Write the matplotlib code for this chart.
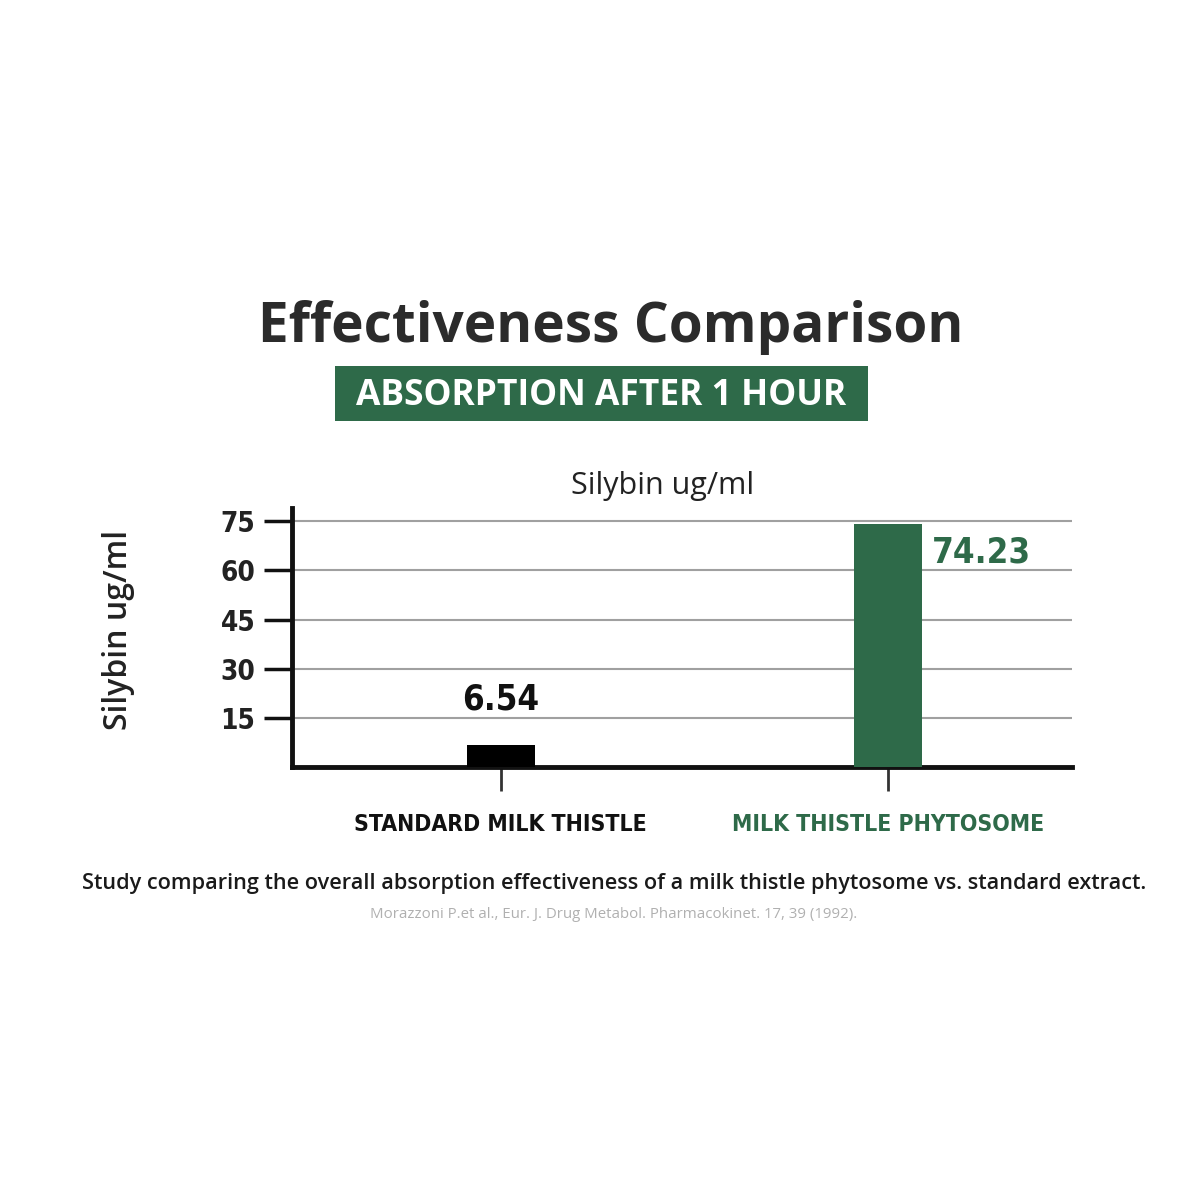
import matplotlib.pyplot as plt
from matplotlib.patches import Rectangle

# Data
categories = ['STANDARD MILK THISTLE', 'MILK THISTLE PHYTOSOME']
values = [6.54, 74.23]
value_labels = ['6.54', '74.23']
y_ticks = [15, 30, 45, 60, 75]

green = '#2e6a49'
bar_colors = ['#000000', green]
label_colors = ['#111111', green]

narrow = ['DejaVu Sans']
wide = ['Open Sans', 'DejaVu Sans']

fig = plt.figure(figsize=(12, 12), dpi=100)
fig.patch.set_facecolor('white')

ax = fig.add_axes([0.243, 0.361, 0.650, 0.216])
x = list(range(len(categories)))
ax.bar(x, values, width=0.176, color=bar_colors, zorder=3)

ax.set_xlim(-0.54, 1.475)
ax.set_ylim(0, 79.2)
ax.set_yticks(y_ticks)
ax.set_yticklabels([str(t) for t in y_ticks], family=narrow, fontweight='bold',
                   fontsize=20, color='#222222', fontstretch='condensed')
ax.set_xticks(x)
ax.set_xticklabels(categories, family=narrow, fontweight='bold', fontsize=16.5,
                   fontstretch='condensed')
for lbl, c in zip(ax.get_xticklabels(), label_colors):
    lbl.set_color(c)

ax.grid(axis='y', color='#a0a0a0', linewidth=1.5, zorder=0)
ax.tick_params(axis='y', length=20, width=2.5, color='#111111', pad=6)
ax.tick_params(axis='x', length=17, width=2, color='#333333', pad=16)
for side in ['top', 'right']:
    ax.spines[side].set_visible(False)
for side in ['left', 'bottom']:
    ax.spines[side].set_linewidth(3.5)
    ax.spines[side].set_color('#111111')

# value labels
ax.text(x[0], 17.5, value_labels[0], ha='center', va='baseline',
        family=narrow, fontweight='bold', fontsize=25, color='#111111',
        fontstretch='condensed')
ax.text(x[1] + 0.114, 62.4, value_labels[1], ha='left', va='baseline',
        family=narrow, fontweight='bold', fontsize=25, color=green,
        fontstretch='condensed')

ax.set_title('Silybin ug/ml', family=wide, fontsize=22, color='#222222', pad=10,
             x=0.476)
fig.text(0.099, 0.475, 'Silybin ug/ml', rotation=90, ha='center', va='center',
         family=wide, fontsize=23, fontweight='semibold', color='#222222')

# header
fig.text(0.509, 0.727, 'Effectiveness Comparison', ha='center', va='center',
         family=wide, fontsize=39.5, fontweight='bold', color='#2b2b2b')
fig.patches.append(Rectangle((0.279, 0.649), 0.444, 0.046, transform=fig.transFigure,
                             facecolor=green, edgecolor='none'))
fig.text(0.501, 0.670, 'ABSORPTION AFTER 1 HOUR', ha='center', va='center',
         family=wide, fontsize=25.5, fontweight='bold', color='white')

# caption
fig.text(0.512, 0.264, 'Study comparing the overall absorption effectiveness of a milk thistle phytosome vs. standard extract.',
         ha='center', va='center', family=wide, fontsize=15.6, fontweight='semibold',
         color='#1a1a1a')
fig.text(0.511, 0.238, 'Morazzoni P.et al., Eur. J. Drug Metabol. Pharmacokinet. 17, 39 (1992).',
         ha='center', va='center', family=wide, fontsize=10.8, color='#b0b0b0')

fig.savefig('out.png', dpi=100, facecolor='white')
